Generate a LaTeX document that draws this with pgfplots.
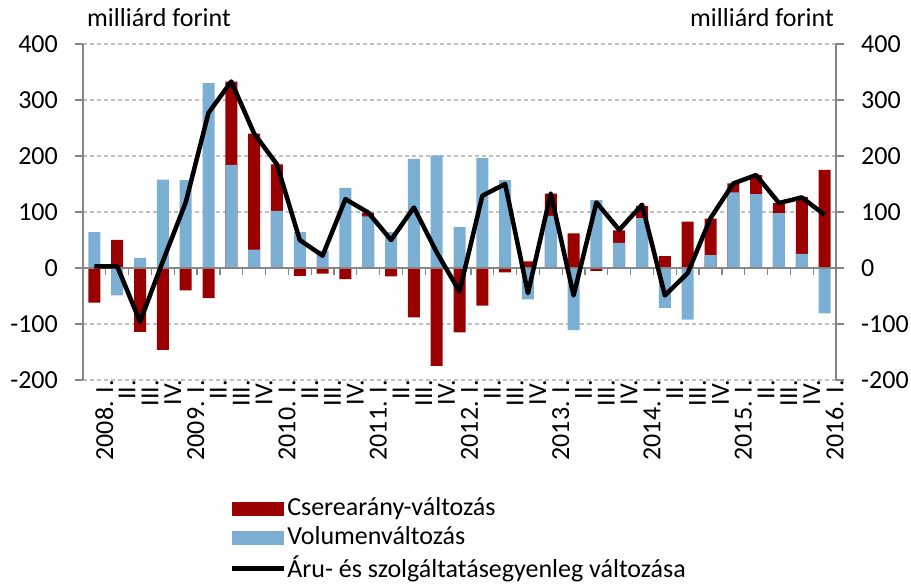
\documentclass[border=0pt]{standalone}
\usepackage{fontspec}
\setmainfont{Carlito}
\usepackage{pgfplots}
\pgfplotsset{compat=1.18}
\definecolor{cred}{RGB}{155,0,0}
\definecolor{cblue}{RGB}{123,175,212}
\definecolor{cgrid}{RGB}{191,191,191}
\definecolor{caxis}{RGB}{134,134,134}
\begin{document}
\fontsize{26bp}{31bp}\selectfont
\begin{tikzpicture}[x=1bp,y=1bp]
\useasboundingbox (0,0) rectangle (911,584);
\begin{axis}[
  at={(83bp,204bp)}, anchor=south west,
  scale only axis, width=753bp, height=336bp,
  xmin=-0.5, xmax=32.5, ymin=-200, ymax=400,
  ytick={-200,-100,...,400},
  yticklabels={-200,-100,0,100,200,300,400},
  xtick={0,...,32},
  xticklabels={2008. I.,II.,III.,IV.,2009. I.,II.,III.,IV.,2010. I.,II.,III.,IV.,2011. I.,II.,III.,IV.,2012. I.,II.,III.,IV.,2013. I.,II.,III.,IV.,2014. I.,II.,III.,IV.,2015. I.,II.,III.,IV.,2016. I.},
  axis x line*=bottom, x axis line style={draw=none},
  axis y line*=left, y axis line style={caxis, line width=1.3bp},
  ymajorgrids, grid style={cgrid, dash pattern=on 4bp off 3bp, line width=1.3bp},
  xtick style={draw=none},
  ytick style={caxis, line width=1.3bp},
  ytick align=outside, major tick length=8bp,
  tick label style={font=\fontsize{26bp}{31bp}\selectfont},
  yticklabel style={inner sep=0pt, xshift=-17bp},
  xticklabel style={rotate=90, anchor=east, inner sep=0pt, yshift=-10bp},
  legend style={at={(0.19,-0.34)}, anchor=north west, draw=none, fill=none,
    font=\fontsize{26bp}{31bp}\selectfont, row sep=4bp,
    nodes={inner sep=1.5bp}, cells={anchor=west}},
  legend cell align=left,
  clip=false,
]
\addplot[ybar, bar width=12bp, bar shift=0pt, fill=cred, draw=none,
  legend image code/.code={\fill[cred] (0bp,-7bp) rectangle (52bp,7bp);}]
  coordinates {(0,-62)(1,50)(2,-114)(3,-146)(4,-40)(5,-54)(6,333)(7,240)(8,185)(9,-14)(10,-10)(11,-20)(12,99)(13,-15)(14,-88)(15,-175)(16,-115)(17,-67)(18,-8)(19,12)(20,133)(21,62)(22,-5)(23,67)(24,111)(25,21)(26,83)(27,88)(28,151)(29,166)(30,116)(31,127)(32,175)};
\addlegendentry{Cserearány-változás}
\addplot[ybar, bar width=12bp, bar shift=0pt, fill=cblue, draw=none,
  legend image code/.code={\fill[cblue] (0bp,-7bp) rectangle (52bp,7bp);}]
  coordinates {(0,64)(1,-49)(2,18)(3,158)(4,157)(5,330)(6,184)(7,33)(8,102)(9,64)(10,31)(11,143)(12,92)(13,64)(14,195)(15,201)(16,73)(17,196)(18,157)(19,-56)(20,93)(21,-111)(22,121)(23,45)(24,89)(25,-71)(26,-92)(27,23)(28,135)(29,132)(30,98)(31,25)(32,-81)};
\addlegendentry{Volumenváltozás}
\draw[caxis, line width=1.3bp] (axis cs:-0.5,0) -- (axis cs:32.5,0);
\pgfplotsinvokeforeach{0.5,1.5,...,31.5}{\draw[caxis, line width=1.3bp] (axis cs:#1,0) -- ([yshift=-7bp]axis cs:#1,0);}
\addplot[black, line width=4.5bp, line join=round, no markers,
  legend image code/.code={\draw[black, line width=4.5bp] (0bp,0bp) -- (52bp,0bp);}]
  coordinates {(0,3)(1,3)(2,-96)(3,12)(4,117)(5,277)(6,333)(7,240)(8,185)(9,50)(10,22)(11,123)(12,99)(13,50)(14,108)(15,28)(16,-42)(17,129)(18,150)(19,-45)(20,133)(21,-49)(22,117)(23,68)(24,113)(25,-49)(26,-9)(27,89)(28,151)(29,166)(30,116)(31,126)(32,95)};
\addlegendentry{Áru- és szolgáltatásegyenleg változása}
\end{axis}
\begin{axis}[
  at={(83bp,204bp)}, anchor=south west,
  scale only axis, width=753bp, height=336bp,
  xmin=-0.5, xmax=32.5, ymin=-200, ymax=400,
  ytick={-200,-100,...,400},
  yticklabels={-200,-100,0,100,200,300,400},
  axis x line=none,
  axis y line*=right, y axis line style={caxis, line width=1.3bp},
  ytick style={caxis, line width=1.3bp},
  ytick align=outside, major tick length=8bp,
  tick label style={font=\fontsize{26bp}{31bp}\selectfont},
  yticklabel style={inner sep=0pt, xshift=17bp, anchor=west},
]
\end{axis}
\node[anchor=base west, inner sep=0pt] at (87,557) {milliárd forint};
\node[anchor=base east, inner sep=0pt] at (834,557) {milliárd forint};
\end{tikzpicture}
\end{document}
